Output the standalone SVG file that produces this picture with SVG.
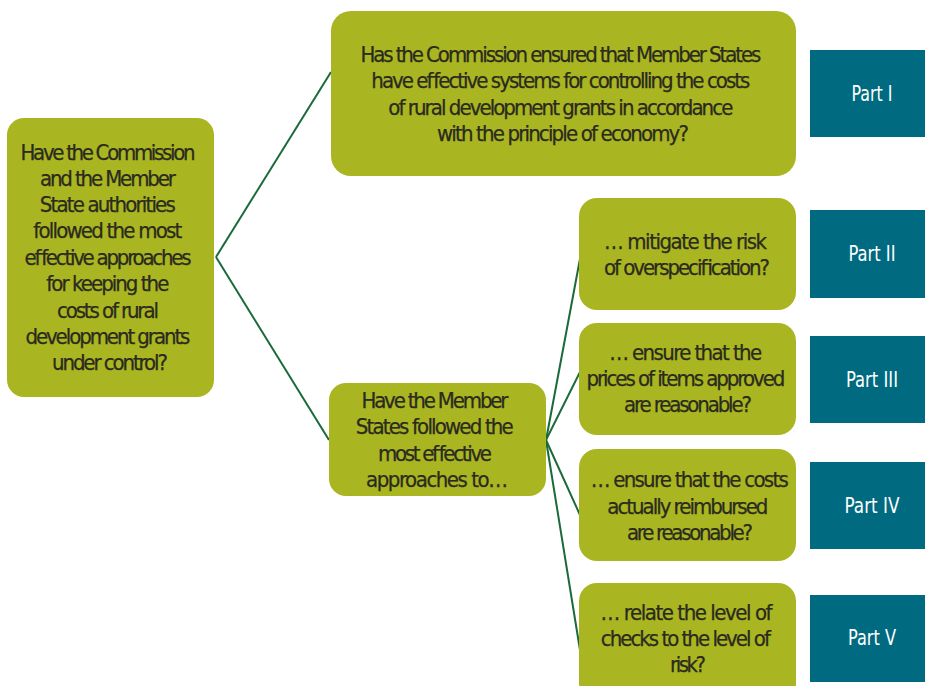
<svg xmlns="http://www.w3.org/2000/svg" width="925" height="686" viewBox="0 0 925 686">
<style>
.q{fill:#a9b621}
.p{fill:#006a80}
.t{font-family:"DejaVu Sans Condensed","DejaVu Sans",sans-serif;font-stretch:condensed;font-size:22px;fill:#2b2a1e;text-anchor:middle;stroke:#2b2a1e;stroke-width:0.25}
.w{font-family:"DejaVu Sans Condensed","DejaVu Sans",sans-serif;font-stretch:condensed;font-size:22px;fill:#ffffff;text-anchor:middle}
.c{stroke:#1a6a3a;stroke-width:2;fill:none}
</style>
<rect width="925" height="686" fill="#ffffff"/>
<g id="connectors">
<path class="c" d="M216,257 L331,72"/>
<path class="c" d="M216,257 L329,440"/>
<path class="c" d="M546,440 L580,259"/>
<path class="c" d="M546,440 L580,372"/>
<path class="c" d="M546,440 L580,515"/>
<path class="c" d="M546,440 L580,650"/>
</g>
<g id="root">
<rect class="q" x="7" y="118" width="207" height="279" rx="17"/>
<text class="t" lengthAdjust="spacingAndGlyphs">
<tspan x="110" y="160" textLength="175">Have the Commission</tspan>
<tspan x="110" y="186" textLength="136">and the Member</tspan>
<tspan x="110" y="212" textLength="136">State authorities</tspan>
<tspan x="110" y="238" textLength="149">followed the most</tspan>
<tspan x="110" y="265" textLength="167">effective approaches</tspan>
<tspan x="110" y="291" textLength="123">for keeping the</tspan>
<tspan x="110" y="318" textLength="102">costs of rural</tspan>
<tspan x="110" y="344" textLength="165">development grants</tspan>
<tspan x="110" y="370" textLength="116">under control?</tspan>
</text>
</g>
<g id="q1">
<rect class="q" x="331" y="11" width="465" height="165" rx="20"/>
<text class="t" lengthAdjust="spacingAndGlyphs">
<tspan x="563" y="62" textLength="401">Has the Commission ensured that Member States</tspan>
<tspan x="563" y="88" textLength="379">have effective systems for controlling the costs</tspan>
<tspan x="563" y="115" textLength="345">of rural development grants in accordance</tspan>
<tspan x="563" y="141" textLength="252">with the principle of economy?</tspan>
</text>
</g>
<g id="q2">
<rect class="q" x="329" y="383" width="217" height="113" rx="17"/>
<text class="t" lengthAdjust="spacingAndGlyphs">
<tspan x="437" y="408" textLength="147">Have the Member</tspan>
<tspan x="437" y="434" textLength="158">States followed the</tspan>
<tspan x="437" y="461" textLength="114">most effective</tspan>
<tspan x="437" y="487" textLength="142">approaches to…</tspan>
</text>
</g>
<g id="q2a">
<rect class="q" x="579" y="198" width="217" height="112" rx="18"/>
<text class="t" lengthAdjust="spacingAndGlyphs">
<tspan x="688" y="249" textLength="163">… mitigate the risk</tspan>
<tspan x="687" y="275" textLength="166">of overspecification?</tspan>
</text>
</g>
<g id="q2b">
<rect class="q" x="579" y="323" width="217" height="112" rx="18"/>
<text class="t" lengthAdjust="spacingAndGlyphs">
<tspan x="688" y="360" textLength="153">… ensure that the</tspan>
<tspan x="688" y="386" textLength="199">prices of items approved</tspan>
<tspan x="688" y="412" textLength="128">are reasonable?</tspan>
</text>
</g>
<g id="q2c">
<rect class="q" x="579" y="449" width="217" height="112" rx="18"/>
<text class="t" lengthAdjust="spacingAndGlyphs">
<tspan x="692" y="487" textLength="198">… ensure that the costs</tspan>
<tspan x="690" y="514" textLength="161">actually reimbursed</tspan>
<tspan x="690" y="540" textLength="126">are reasonable?</tspan>
</text>
</g>
<g id="q2d">
<rect class="q" x="579" y="583" width="217" height="118" rx="18"/>
<text class="t" lengthAdjust="spacingAndGlyphs">
<tspan x="689" y="620" textLength="172">… relate the level of</tspan>
<tspan x="688" y="646" textLength="170">checks to the level of</tspan>
<tspan x="688" y="672" textLength="36">risk?</tspan>
</text>
</g>
<g id="part1"><rect class="p" x="810" y="50" width="120" height="87"/><text class="w" x="872" y="101" textLength="41" lengthAdjust="spacingAndGlyphs">Part I</text></g>
<g id="part2"><rect class="p" x="810" y="210" width="120" height="88"/><text class="w" x="872" y="261" textLength="47" lengthAdjust="spacingAndGlyphs">Part II</text></g>
<g id="part3"><rect class="p" x="810" y="336" width="120" height="87"/><text class="w" x="872" y="387" textLength="52" lengthAdjust="spacingAndGlyphs">Part III</text></g>
<g id="part4"><rect class="p" x="810" y="462" width="120" height="87"/><text class="w" x="872" y="513" textLength="55" lengthAdjust="spacingAndGlyphs">Part IV</text></g>
<g id="part5"><rect class="p" x="810" y="595" width="120" height="87"/><text class="w" x="872" y="645" textLength="48" lengthAdjust="spacingAndGlyphs">Part V</text></g>
</svg>
